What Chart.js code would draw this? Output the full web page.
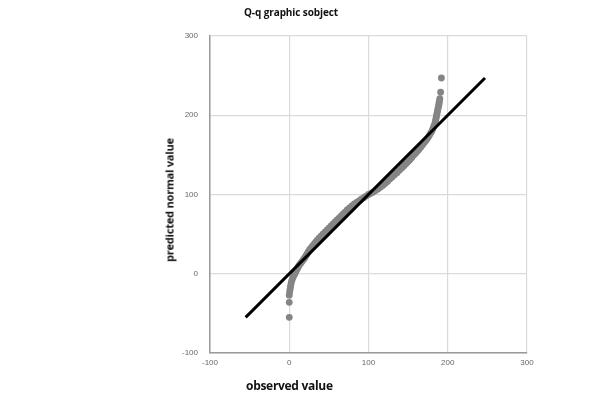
<!DOCTYPE html>
<html>
<head>
<meta charset="utf-8">
<script src="https://cdn.jsdelivr.net/npm/chart.js@4"></script>
<style>
  html, body { margin: 0; padding: 0; background: #ffffff; }
  #wrap { position: relative; width: 589px; height: 401px; }
  canvas { position: absolute; left: 0; top: 0; }
  .lbl { position: absolute; font-family: "Open Sans", "Liberation Sans", sans-serif; font-weight: bold; color: #111; white-space: nowrap; }
  #title { left: 244px; top: 5px; font-size: 10px; letter-spacing: -0.1px; }
  #xtitle { left: 246px; top: 377px; font-size: 12px; letter-spacing: -0.3px; }
  #ytitle { left: 169px; top: 200px; font-size: 11px; letter-spacing: -0.2px; transform: translate(-50%, -50%) rotate(-90deg); }
</style>
</head>
<body>
<div id="wrap">
  <canvas id="c" width="589" height="401"></canvas>
  <div class="lbl" id="title">Q-q graphic sobject</div>
  <div class="lbl" id="xtitle">observed value</div>
  <div class="lbl" id="ytitle">predicted normal value</div>
</div>
<script>
const observedValues = [
  0, 0, 0, 0.5, 1, 1.5, 2, 2.5, 3, 4,
  5, 6, 7, 8, 9, 10, 11, 12, 13.5, 15,
  16.5, 18, 19.5, 21, 22.5, 24, 25.5, 27, 29, 31,
  33, 35, 37.5, 40, 42.5, 45, 47.5, 50, 52.5, 55,
  57.5, 60, 62.5, 65, 67.5, 70, 73, 76, 79, 82,
  85, 88, 91, 94, 97, 100,
  103, 106, 109, 112, 115, 118, 121, 124, 127, 130,
  133, 136, 139, 142, 144.5, 147, 149.5, 152, 154.5, 157,
  159.5, 162, 164, 166, 168, 170, 172, 174, 175.5, 177,
  178.5, 180, 181, 182, 183, 184, 184.5, 185, 185.5, 186,
  186.5, 187, 187.5, 188, 188.5, 189, 189, 189.5, 190, 191,
  192
];
// Predicted normal values (y)
const predictedValues = [
  -55, -36, -27, -23, -20, -17, -14, -11.5, -9, -6.5,
  -4, -2, 0, 2, 4, 6, 8, 10, 12, 14,
  16, 18, 20, 22.5, 25, 27.5, 30, 32, 34.5, 37,
  39.5, 42, 45, 47.5, 50, 52.5, 55, 57.5, 60, 62.5,
  65, 67.5, 70, 72.5, 75, 77.5, 80.5, 83, 85.5, 88,
  90, 92, 94, 96, 98, 100,
  101.5, 103, 105, 107, 109, 111.5, 114, 116.5, 119.5, 122,
  125, 127.5, 130.5, 133.5, 136, 138.5, 141, 143.5, 146.5, 149.5,
  152, 155, 157.5, 160, 162.5, 165, 167.5, 170, 172.5, 175,
  177.5, 180, 182.5, 185, 187.5, 190, 192.5, 195, 197.5, 200,
  202.5, 205, 207.5, 210, 212, 214, 216, 218, 221, 229,
  247
];
// Reference line end points
const refLineX = [-55, 247];
const refLineY = [-55, 247];
// Axis ticks
const xTicks = [-100, 0, 100, 200, 300];
const yTicks = [-100, 0, 100, 200, 300];

const n = Math.min(observedValues.length, predictedValues.length);
const points = observedValues.slice(0, n).map((v, i) => ({ x: v, y: predictedValues[i] }));
const refLine = refLineX.map((v, i) => ({ x: v, y: refLineY[i] }));

new Chart(document.getElementById('c'), {
  type: 'scatter',
  data: {
    datasets: [
      {
        type: 'line',
        data: refLine,
        borderColor: '#000000',
        borderWidth: 3,
        pointRadius: 0,
        fill: false
      },
      {
        data: points,
        backgroundColor: '#858585',
        borderColor: '#858585',
        borderWidth: 0,
        pointRadius: 3.4
      }
    ]
  },
  options: {
    responsive: false,
    animation: false,
    layout: { padding: { left: 0, top: 36, right: 62, bottom: 0 } },
    plugins: { legend: { display: false }, title: { display: false }, tooltip: { enabled: false } },
    scales: {
      x: {
        type: 'linear',
        min: -100, max: 300,
        afterBuildTicks: (s) => { s.ticks = xTicks.map(v => ({ value: v })); },
        afterFit: (s) => { s.height = 48; },
        grid: { color: '#dadada', lineWidth: 1.2, drawTicks: false },
        border: { color: '#9a9a9a', width: 1.5 },
        ticks: { padding: 5, color: '#666', font: { family: 'Liberation Sans', size: 8 }, maxRotation: 0 }
      },
      y: {
        type: 'linear',
        min: -100, max: 300,
        afterBuildTicks: (s) => { s.ticks = yTicks.map(v => ({ value: v })); },
        afterFit: (s) => { s.width = 210; },
        grid: { color: '#dadada', lineWidth: 1.2, drawTicks: false },
        border: { color: '#9a9a9a', width: 1.5 },
        ticks: { padding: 12, color: '#666', font: { family: 'Liberation Sans', size: 8 } }
      }
    }
  }
});
</script>
</body>
</html>
